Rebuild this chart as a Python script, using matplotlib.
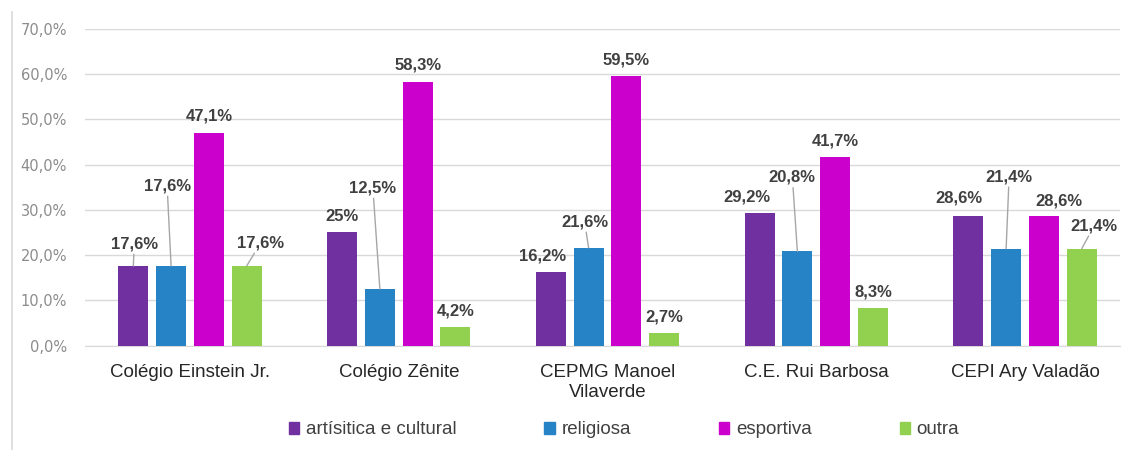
import numpy as np
import matplotlib.pyplot as plt
from matplotlib.patches import Rectangle
from matplotlib.lines import Line2D
from matplotlib.ticker import FuncFormatter

# data (percent)
schools = ["Colégio Einstein Jr.", "Colégio Zênite", "CEPMG Manoel\nVilaverde",
           "C.E. Rui Barbosa", "CEPI Ary Valadão"]
series_names = ["artísitica e cultural", "religiosa", "esportiva", "outra"]
artistica = [17.6, 25.0, 16.2, 29.2, 28.6]
religiosa = [17.6, 12.5, 21.6, 20.8, 21.4]
esportiva = [47.1, 58.3, 59.5, 41.7, 28.6]
outra = [17.6, 4.2, 2.7, 8.3, 21.4]
label_texts = [
    ["17,6%", "25%", "16,2%", "29,2%", "28,6%"],
    ["17,6%", "12,5%", "21,6%", "20,8%", "21,4%"],
    ["47,1%", "58,3%", "59,5%", "41,7%", "28,6%"],
    ["17,6%", "4,2%", "2,7%", "8,3%", "21,4%"],
]

colors = ["#7030A0", "#2683C6", "#CC00CC", "#92D050"]

# label placement (pixel offsets from bar top) and which ones get a leader line
label_offsets = [
    [(1, 22), (0, 16), (-8, 16), (-13, 16.5), (-9, 18)],
    [(-4, 80), (-7, 101), (-4, 26), (-5, 74), (3, 72)],
    [(0, 16.5), (0, 17), (0, 16.5), (0, 16), (15, 15)],
    [(14, 23), (0, 16), (0, 16), (0, 15.5), (12.5, 23)],
]
leaders = [
    [True, False, False, False, False],
    [True, True, True, True, True],
    [False, False, False, False, False],
    [True, False, False, False, True],
]

plt.rcParams['font.family'] = ['Liberation Sans', 'DejaVu Sans']

fig = plt.figure(figsize=(11.24, 4.5), dpi=100)
ax = fig.add_axes([85 / 1124, 1 - 345.5 / 450, (1120 - 85) / 1124, (345.5 - 29) / 450])

x = np.arange(len(schools))
width = 0.144
step = 0.181
all_series = [artistica, religiosa, esportiva, outra]

for i, (vals, name, col) in enumerate(zip(all_series, series_names, colors)):
    xs = x + (i - 1.5) * step
    ax.bar(xs, vals, width=width, color=col, label=name, zorder=3)
    for j, v in enumerate(vals):
        dx, dy = label_offsets[i][j]
        kw = {}
        if leaders[i][j]:
            kw["arrowprops"] = dict(arrowstyle="-", color="#A6A6A6", lw=1,
                                    shrinkA=0, shrinkB=0)
        ax.annotate(label_texts[i][j], xy=(xs[j], v), xytext=(dx, dy),
                    textcoords="offset pixels", ha="center", va="center",
                    fontsize=12, fontweight="bold", color="#404040",
                    annotation_clip=False, zorder=4, **kw)

ax.set_xlim(-0.503, 4.455)
ax.set_ylim(0, 70)
ax.set_yticks(np.arange(0, 71, 10))
ax.yaxis.set_major_formatter(FuncFormatter(lambda v, p: f"{v:.1f}%".replace(".", ",")))
ax.set_xticks(x)
ax.set_xticklabels(schools, fontsize=13.5, color="#262626", linespacing=1.3)
for t in ax.get_yticklabels():
    t.set_family("DejaVu Sans")
    t.set_fontsize(10.5)
    t.set_color("#8C8C8C")
ax.tick_params(axis="x", length=0, pad=13)
ax.tick_params(axis="y", length=0, pad=13)
ax.grid(axis="y", color="#D9D9D9", lw=1, zorder=0)
for s in ["top", "right", "left"]:
    ax.spines[s].set_visible(False)
ax.spines["bottom"].set_color("#D9D9D9")
ax.spines["bottom"].set_zorder(1)

handles = [Rectangle((0, 0), 1, 1, color=c) for c in colors]
fig.legend(handles, series_names, loc="center", bbox_to_anchor=(624 / 1124, 1 - 430 / 450),
           ncol=4, frameon=False, fontsize=13.5, handlelength=0.55, handleheight=0.55,
           handletextpad=0.35, columnspacing=4.7, labelcolor="#404040")

# thin border line at the left edge
fig.add_artist(Line2D([12 / 1124, 12 / 1124], [0, 1 - 12 / 450], color="#D9D9D9", lw=1.2))

fig.savefig("out.png", dpi=100)
